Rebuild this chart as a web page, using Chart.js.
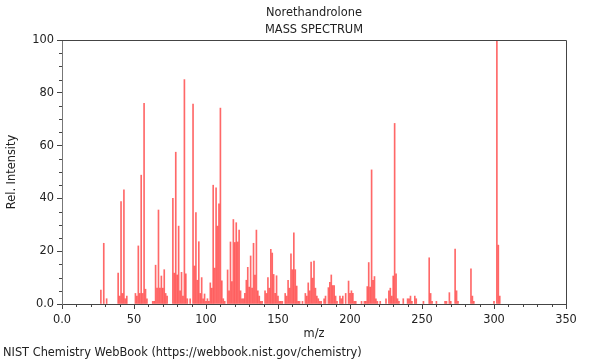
<!DOCTYPE html>
<html>
<head>
<meta charset="utf-8">
<script src="https://cdn.jsdelivr.net/npm/chart.js@4"></script>
<style>
  html, body { margin: 0; padding: 0; background: #fff; }
  #wrap { width: 600px; height: 360px; }
</style>
</head>
<body>
<div id="wrap"><canvas id="chart" width="600" height="360"></canvas></div>
<script>
const compoundName = 'Norethandrolone';
const chartSubtitle = 'MASS SPECTRUM';
const sourceNote = 'NIST Chemistry WebBook (https://webbook.nist.gov/chemistry)';

// m/z values and relative intensities
const mz = [
  27, 29, 31, 39, 40, 41, 42, 43, 44, 45, 51, 52, 53, 54, 55, 56, 57, 58, 59, 63,
  64, 65, 66, 67, 68, 69, 70, 71, 72, 73, 77, 78, 79, 80, 81, 82, 83, 84, 85, 86,
  87, 89, 91, 92, 93, 94, 95, 96, 97, 98, 99, 100, 101, 102, 103, 104, 105, 106, 107, 108,
  109, 110, 111, 112, 113, 115, 116, 117, 118, 119, 120, 121, 122, 123, 124, 125, 126, 127, 128, 129,
  130, 131, 132, 133, 134, 135, 136, 137, 138, 139, 141, 142, 143, 144, 145, 146, 147, 148, 149, 150,
  151, 152, 153, 155, 156, 157, 158, 159, 160, 161, 162, 163, 164, 165, 167, 169, 170, 171, 172, 173,
  174, 175, 176, 177, 178, 179, 180, 182, 183, 185, 186, 187, 188, 189, 190, 191, 193, 194, 195, 197,
  199, 200, 201, 202, 203, 204, 208, 210, 211, 212, 213, 214, 215, 216, 217, 218, 219, 221, 225, 227,
  228, 229, 230, 231, 232, 233, 234, 237, 240, 241, 242, 243, 245, 246, 251, 255, 256, 257, 260, 266,
  267, 269, 270, 273, 274, 275, 284, 285, 286, 300, 302, 303, 304
];
const intensity = [
  5.3, 23, 2, 11.7, 3, 38.8, 4, 43.2, 2, 3, 4, 3, 22, 4, 48.8, 4, 76, 5.6, 2, 1,
  1, 14.7, 6, 35.6, 6, 10.6, 6, 13, 4, 3, 40, 11.7, 57.5, 11, 29.5, 5, 12, 3, 85, 11.4,
  2, 2, 75.7, 14.4, 34.6, 9, 23.6, 4, 10, 2, 3.8, 1, 2, 1, 8, 6, 45, 13.6, 44, 29.5,
  37.9, 74.2, 8.8, 2, 1, 12.9, 5, 23.5, 8.5, 32, 23.3, 30.8, 23.5, 28, 5, 2, 2, 4, 9, 13.9,
  6.4, 18.2, 6, 23, 11, 28, 5, 3, 1, 1, 5, 4, 10, 6, 20.7, 19.3, 11.2, 4, 10.7, 3,
  1, 1, 1, 4, 3, 9, 6, 19, 13, 27, 13, 6.8, 1, 1, 1, 4, 3, 8, 5, 15.9,
  9.8, 16.3, 6, 3, 2, 1, 1, 2, 3, 6.2, 8.2, 11, 7, 7, 3, 1, 3, 2, 3, 4,
  8.7, 4, 5, 4, 1, 1, 1, 1, 1, 6.6, 15.7, 6.4, 50.8, 9, 10.4, 2, 1, 1, 2, 5,
  6, 3, 10.6, 68.4, 11.4, 2, 1, 2, 2, 2, 3, 1, 3, 2, 1, 17.5, 4, 1, 1, 1,
  1, 4.3, 1, 20.8, 5, 1, 13.3, 3, 1, 1, 100, 22.3, 3
];

const xTicks = [0, 50, 100, 150, 200, 250, 300, 350];
const yTicks = [0, 20, 40, 60, 80, 100];

const FONT = 'DejaVu Sans';
const FSIZE = 11.4;
const axisColor = '#444';

// titles, footer, frame and the small minor ticks
const extras = {
  id: 'extras',
  afterDraw(chart) {
    const { ctx, chartArea: a, scales } = chart;
    ctx.save();
    ctx.strokeStyle = axisColor;
    ctx.lineWidth = 1;
    ctx.beginPath();
    ctx.moveTo(a.left, a.top + 0.5);
    ctx.lineTo(a.right + 0.5, a.top + 0.5);
    ctx.lineTo(a.right + 0.5, a.bottom);
    ctx.stroke();

    ctx.beginPath();
    for (let v = 10; v < 350; v += 10) {
      if (v % 50 === 0) continue;
      const x = Math.round(scales.x.getPixelForValue(v)) + 0.5;
      ctx.moveTo(x, a.bottom);
      ctx.lineTo(x, a.bottom + 3);
    }
    for (let v = 5; v < 100; v += 5) {
      if (v % 20 === 0) continue;
      const y = Math.round(scales.y.getPixelForValue(v)) + 0.5;
      ctx.moveTo(a.left - 3, y);
      ctx.lineTo(a.left, y);
    }
    ctx.stroke();

    ctx.fillStyle = '#222';
    ctx.font = FSIZE + 'px "' + FONT + '"';
    ctx.textAlign = 'center';
    ctx.textBaseline = 'middle';
    const cx = (a.left + a.right) / 2;
    ctx.fillText(compoundName, cx, 13);
    ctx.fillText(chartSubtitle, cx, 30);
    ctx.textAlign = 'left';
    ctx.fillText(sourceNote, 3, 353);
    ctx.restore();
  }
};

new Chart(document.getElementById('chart'), {
  type: 'bar',
  data: {
    datasets: [{
      data: mz.map((m, i) => ({ x: m, y: intensity[i] })),
      backgroundColor: 'rgba(255, 40, 40, 0.7)',
      borderWidth: 0,
      barThickness: 1
    }]
  },
  options: {
    responsive: false,
    animation: false,
    layout: { padding: { top: 40, right: 34, left: 0, bottom: 0 } },
    plugins: {
      legend: { display: false },
      tooltip: { enabled: false },
      title: { display: false }
    },
    scales: {
      x: {
        type: 'linear',
        min: 0,
        max: 350,
        offset: false,
        afterFit: s => { s.height = 56; },
        afterBuildTicks: s => { s.ticks = xTicks.map(v => ({ value: v })); },
        grid: { offset: false, drawOnChartArea: false, drawTicks: true, tickLength: 5, color: axisColor },
        border: { display: true, color: axisColor, width: 1 },
        ticks: {
          padding: 4,
          color: '#222',
          font: { family: FONT, size: FSIZE },
          maxRotation: 0,
          callback: v => v === 0 ? '0.0' : String(v)
        },
        title: {
          display: true,
          text: 'm/z',
          color: '#222',
          font: { family: FONT, size: FSIZE },
          padding: { top: 0, bottom: 19 }
        }
      },
      y: {
        min: 0,
        max: 100,
        afterFit: s => { s.width = 62; },
        afterBuildTicks: s => { s.ticks = yTicks.map(v => ({ value: v })); },
        grid: { drawOnChartArea: false, drawTicks: true, tickLength: 5, color: axisColor },
        border: { display: true, color: '#777', width: 1 },
        ticks: {
          padding: 3,
          color: '#222',
          font: { family: FONT, size: FSIZE },
          callback: v => v === 0 ? '0.0' : String(v)
        },
        title: {
          display: true,
          text: 'Rel. Intensity',
          color: '#222',
          font: { family: FONT, size: FSIZE },
          padding: { top: 5, bottom: 0 }
        }
      }
    }
  },
  plugins: [extras]
});
</script>
</body>
</html>
